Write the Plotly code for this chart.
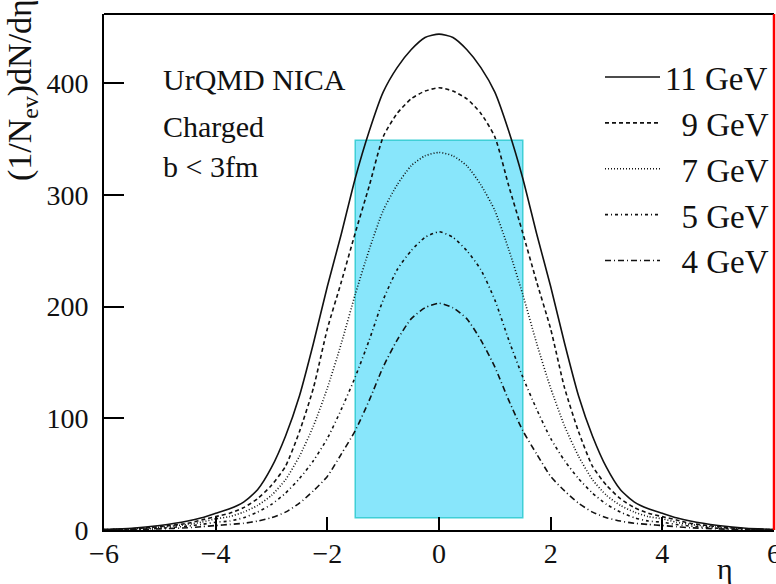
import plotly.graph_objects as go

# ---- data ----
eta_half = [0.0, 0.25, 0.5, 0.75, 1.0, 1.25, 1.5, 1.75, 2.0, 2.25, 2.5, 2.75,
            3.0, 3.25, 3.5, 3.75, 4.0, 4.25, 4.5, 5.0, 5.5, 6.0]
gev11 = [444, 441, 430, 414, 392, 357, 315, 265, 218, 167, 120, 84,
         56, 36, 25, 19, 15, 11, 8, 4, 1.5, 0.5]
gev9 = [396, 393, 386, 373, 352, 308, 266, 222, 180, 127, 88, 57,
        40, 28, 20, 15, 12, 9, 6, 3, 1, 0.3]
gev7 = [338, 335, 326, 309, 286, 251, 211, 167, 127, 93, 66, 45,
        31, 22, 16, 12, 10, 7, 5, 2.5, 1, 0.3]
gev5 = [267, 262, 250, 233, 206, 170, 137, 108, 82, 62, 46, 33,
        23, 16, 11, 8, 7, 5, 3.5, 1.5, 0.5, 0.2]
gev4 = [203, 199, 189, 170, 146, 116, 89, 68, 48, 35, 24, 16,
        11, 8, 6, 5, 4, 3, 2, 1, 0.3, 0.1]
series_names = ["11 GeV", "\u20079 GeV", "\u20077 GeV", "\u20075 GeV", "\u20074 GeV"]
series_vals = [gev11, gev9, gev7, gev5, gev4]
dashes = ["solid", "4px,3px", "1px,2px", "3px,3px,1px,3px", "6px,3px,1px,3px"]

region_eta = [-1.5, 1.5]
region_y = [11, 349]

x_ticks = [-6, -4, -2, 0, 2, 4, 6]
y_ticks = [0, 100, 200, 300, 400]

FONT = "Liberation Serif"

def mirror(vals):
    return list(reversed(vals[1:])) + list(vals)

eta = [-e for e in reversed(eta_half[1:])] + eta_half

fig = go.Figure()
for name, vals, dash in zip(series_names, series_vals, dashes):
    fig.add_trace(go.Scatter(
        x=eta, y=mirror(vals), mode="lines", name=name,
        line=dict(color="#111111", width=1.6, dash=dash, shape="spline", smoothing=0.6),
        legendgroup=name,
    ))

fig.add_shape(type="rect", xref="x", yref="y",
              x0=region_eta[0], x1=region_eta[1], y0=region_y[0], y1=region_y[1],
              fillcolor="#88E6FB", line=dict(color="#3FCFD6", width=1.5), layer="below")

# frame: top black, right red
fig.add_shape(type="line", xref="paper", yref="paper", x0=0, x1=1, y0=1, y1=1,
              line=dict(color="black", width=2))
fig.add_shape(type="line", xref="paper", yref="paper", x0=1, x1=1, y0=0, y1=1,
              line=dict(color="red", width=2.5))

ann_font = dict(family=FONT, size=30, color="#111111")
fig.add_annotation(text="UrQMD NICA", xref="paper", yref="paper",
                   x=(161 - 104) / 670, y=(530 - 79) / 516, xanchor="left", yanchor="middle",
                   showarrow=False, font=ann_font)
fig.add_annotation(text="Charged", xref="paper", yref="paper",
                   x=(161 - 104) / 670, y=(530 - 126) / 516, xanchor="left", yanchor="middle",
                   showarrow=False, font=ann_font)
fig.add_annotation(text="b < 3fm", xref="paper", yref="paper",
                   x=(161 - 104) / 670, y=(530 - 167) / 516, xanchor="left", yanchor="middle",
                   showarrow=False, font=ann_font)
fig.add_annotation(text="η", xref="paper", yref="paper",
                   x=(725 - 104) / 670, y=(530 - 568) / 516, xanchor="center", yanchor="middle",
                   showarrow=False, font=dict(family=FONT, size=30, color="#111111"))
fig.add_annotation(text="(1/N<sub>ev</sub>)dN/dη", xref="paper", yref="paper",
                   x=(22 - 104) / 670, y=1, xanchor="center", yanchor="top", yshift=17,
                   textangle=-90, showarrow=False,
                   font=dict(family=FONT, size=34, color="#111111"))

fig.update_layout(
    width=776, height=584,
    margin=dict(l=104, r=2, t=14, b=54, autoexpand=False),
    paper_bgcolor="white", plot_bgcolor="white",
    showlegend=True,
    legend=dict(x=(600 - 104) / 670, y=(530 - 49) / 516, xanchor="left", yanchor="top",
                bgcolor="rgba(0,0,0,0)", font=dict(family=FONT, size=33, color="#111111"),
                itemwidth=55, tracegroupgap=2, traceorder="normal"),
    xaxis=dict(range=[-6, 6], tickvals=x_ticks, ticks="inside", ticklen=13, tickwidth=1.5,
               tickcolor="black", showline=True, linecolor="black", linewidth=2,
               showgrid=False, zeroline=False, ticklabelstandoff=-3,
               ticklabeloverflow="allow", automargin=False,
               tickfont=dict(family=FONT, size=28, color="#111111")),
    yaxis=dict(range=[0, 462], tickvals=y_ticks, ticks="inside", ticklen=20, tickwidth=1.5,
               tickcolor="black", showline=True, linecolor="black", linewidth=2,
               showgrid=False, zeroline=False, ticklabelstandoff=8, automargin=False,
               tickfont=dict(family=FONT, size=28, color="#111111")),
)

fig.write_html("out.html", config={"displayModeBar": False},
               post_script="document.body.style.margin='0';document.body.style.overflow='hidden';")
